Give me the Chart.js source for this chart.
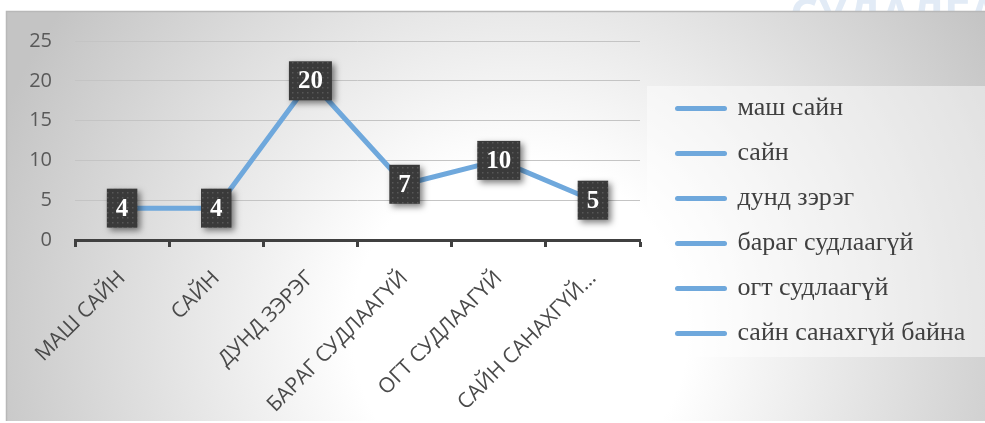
<!DOCTYPE html>
<html><head><meta charset="utf-8">
<script src="https://cdn.jsdelivr.net/npm/chart.js@4.4.0/dist/chart.umd.min.js"></script>
<style>html,body{margin:0;padding:0;background:#fff;overflow:hidden}canvas{display:block}</style>
</head><body>
<canvas id="c" width="985" height="423"></canvas>
<script>
const categories = ['МАШ САЙН', 'САЙН', 'ДУНД ЗЭРЭГ', 'БАРАГ СУДЛААГҮЙ', 'ОГТ СУДЛААГҮЙ', 'САЙН САНАХГҮЙ…'];
const legendLabels = ['маш сайн', 'сайн', 'дунд зэрэг', 'бараг судлаагүй', 'огт судлаагүй', 'сайн санахгүй байна'];
const values = [4, 4, 20, 7, 10, 5];
const yTicks = [0, 5, 10, 15, 20, 25];

const LINE_COLOR = '#6FA8DC';

function makePattern(ctx) {
  const p = document.createElement('canvas');
  p.width = 5; p.height = 5;
  const pc = p.getContext('2d');
  pc.fillStyle = '#3a3a3a'; pc.fillRect(0, 0, 5, 5);
  pc.fillStyle = '#575757'; pc.fillRect(2, 2, 1.5, 1.5);
  return ctx.createPattern(p, 'repeat');
}

const framePlugin = {
  id: 'frame',
  beforeUpdate(chart) {
    const L = chart.legend;
    if (L && !L._patched) {
      const f = L.fit;
      L.fit = function () { f.call(this); this.width = 345; };
      L._patched = true;
    }
  },
  afterLayout(chart) {
    const L = chart.legend;
    const w = L.width;
    L.left = chart.chartArea.right + 18.5;
    L.right = L.left + w;
    L.top = 70; L.bottom = 372; L.height = 302;
  },
  beforeDraw(chart) {
    const ctx = chart.ctx;
    ctx.save();
    ctx.fillStyle = '#fff'; ctx.fillRect(0, 0, 985, 423);
    ctx.font = 'bold 44px "Open Sans"';
    ctx.fillStyle = '#e2ebf6';
    ctx.textBaseline = 'alphabetic';
    ctx.fillText('СУДАЛГАА', 790, 30);
    const g = ctx.createRadialGradient(520, 330, 0, 520, 330, 560);
    g.addColorStop(0, '#ffffff');
    g.addColorStop(0.3, '#ffffff');
    g.addColorStop(1, '#c4c4c4');
    ctx.fillStyle = g;
    ctx.fillRect(6, 11, 979, 410);
    ctx.strokeStyle = '#b8b8b8'; ctx.lineWidth = 1.5;
    ctx.beginPath();
    ctx.moveTo(6.5, 421); ctx.lineTo(6.5, 11.5); ctx.lineTo(985, 11.5);
    ctx.stroke();
    const L = chart.legend;
    ctx.fillStyle = 'rgba(255,255,255,0.45)';
    const lx = L.left - 11.5;
    ctx.fillRect(lx, 86, 985 - lx, 271);
    ctx.restore();
  }
};

const labelPlugin = {
  id: 'boxLabels',
  afterDatasetsDraw(chart) {
    const ctx = chart.ctx;
    const pat = makePattern(ctx);
    const meta = chart.getDatasetMeta(0);
    const data = chart.data.datasets[0].data;
    ctx.save();
    ctx.font = 'bold 25px "Liberation Serif"';
    meta.data.forEach((pt, i) => {
      const txt = String(data[i]);
      const w = ctx.measureText(txt).width + 18;
      const h = 39;
      ctx.save();
      ctx.shadowColor = 'rgba(0,0,0,0.5)';
      ctx.shadowBlur = 6; ctx.shadowOffsetX = 3; ctx.shadowOffsetY = 3;
      ctx.fillStyle = pat;
      ctx.fillRect(pt.x - w / 2, pt.y - h / 2, w, h);
      ctx.restore();
      ctx.fillStyle = '#ffffff';
      ctx.textAlign = 'center'; ctx.textBaseline = 'middle';
      ctx.fillText(txt, pt.x, pt.y + 1);
    });
    ctx.restore();
  }
};

new Chart(document.getElementById('c'), {
  type: 'line',
  data: {
    labels: categories,
    datasets: [{
      data: values,
      borderColor: LINE_COLOR,
      backgroundColor: LINE_COLOR,
      borderWidth: 5,
      pointRadius: 0,
      tension: 0,
      fill: false,
      borderCapStyle: 'round',
      borderJoinStyle: 'round'
    }]
  },
  options: {
    responsive: false,
    animation: false,
    devicePixelRatio: 1,
    layout: { padding: { top: 41, left: 0, right: 0, bottom: 0 } },
    plugins: {
      tooltip: { enabled: false },
      legend: {
        position: 'right',
        labels: {
          usePointStyle: true,
          pointStyleWidth: 47,
          padding: 19,
          color: '#404040',
          font: { family: '"Liberation Serif"', size: 26 },
          generateLabels: () => legendLabels.map((t, i) => ({
            text: t, fillStyle: LINE_COLOR, strokeStyle: LINE_COLOR,
            lineWidth: 5, lineCap: 'round', pointStyle: 'line',
            hidden: false, index: i, datasetIndex: 0, fontColor: '#404040'
          }))
        }
      }
    },
    scales: {
      x: {
        offset: true,
        grid: { offset: true, drawOnChartArea: false, drawTicks: true, tickLength: 7, tickWidth: 3, tickColor: '#404040' },
        border: { display: true, color: '#404040', width: 3 },
        ticks: { autoSkip: false, maxRotation: 45, minRotation: 45, padding: 19, color: '#4a4a4a', font: { family: '"Open Sans"', size: 21 } },
        afterFit: s => { s.height = 183; }
      },
      y: {
        min: 0, max: 25,
        afterBuildTicks: s => { s.ticks = yTicks.map(v => ({ value: v })); },
        grid: { color: '#c4c4c4', lineWidth: 1, drawTicks: false },
        border: { display: false },
        ticks: { padding: 23, color: '#595959', font: { family: '"Open Sans"', size: 20 } },
        afterFit: s => { s.width = 75; }
      }
    }
  },
  plugins: [framePlugin, labelPlugin]
});
</script>
</body></html>
